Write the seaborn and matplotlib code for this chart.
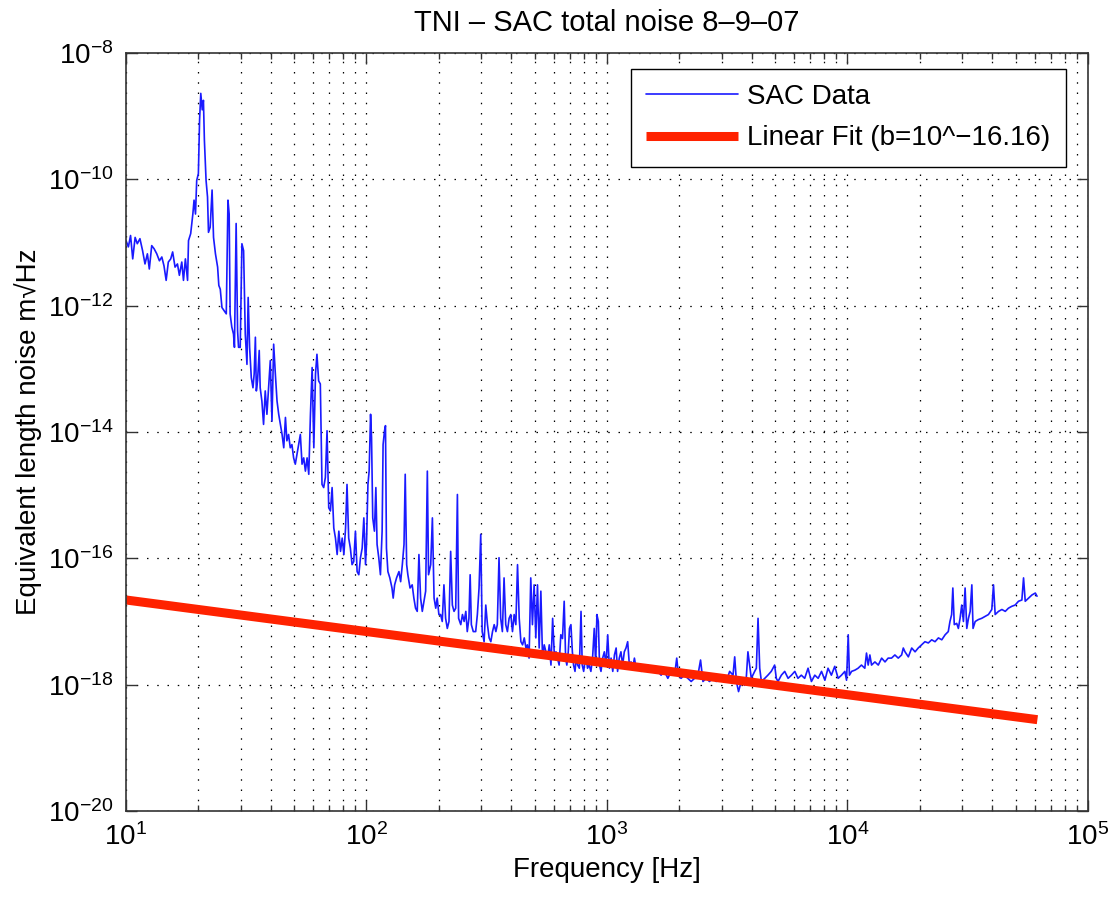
import seaborn as sns
import pandas as pd
import numpy as np
import matplotlib.pyplot as plt
from matplotlib.ticker import LogLocator, NullLocator, LogFormatterMathtext

# valores (log10 de frecuencia y de ruido)
low_logf = [1.000, 1.010, 1.019, 1.028, 1.038, 1.047, 1.058, 1.069, 1.079, 1.089,
            1.097, 1.107, 1.117, 1.128, 1.139, 1.149, 1.158, 1.167, 1.176, 1.186,
            1.194, 1.204, 1.214, 1.222, 1.232, 1.239, 1.247, 1.256, 1.260, 1.269,
            1.278, 1.283, 1.289, 1.294, 1.301, 1.306, 1.311, 1.317, 1.322, 1.326,
            1.333, 1.339, 1.343, 1.350, 1.358, 1.364, 1.372, 1.381, 1.386, 1.392,
            1.399, 1.408, 1.417, 1.424, 1.429, 1.433, 1.440, 1.447, 1.451, 1.458,
            1.464, 1.468, 1.475, 1.482, 1.489, 1.496, 1.503, 1.508, 1.514, 1.521,
            1.528, 1.533, 1.538, 1.542, 1.547, 1.554, 1.558, 1.565, 1.572, 1.579,
            1.586, 1.593, 1.600, 1.607, 1.614, 1.621, 1.628, 1.635, 1.642, 1.649,
            1.656, 1.663, 1.669, 1.676, 1.683, 1.690, 1.697, 1.704, 1.711, 1.725,
            1.732, 1.739, 1.746, 1.753, 1.760, 1.767, 1.774, 1.781, 1.788, 1.794,
            1.801]
low_logn = [-10.97, -11.07, -10.89, -11.26, -10.92, -11.02, -10.94, -11.13, -11.34, -11.18,
            -11.42, -11.05, -11.10, -11.18, -11.29, -11.23, -11.37, -11.60, -11.31, -11.26,
            -11.15, -11.39, -11.34, -11.52, -11.31, -11.60, -11.26, -11.60, -10.97, -10.86,
            -10.55, -10.33, -10.55, -10.02, -9.91, -9.06, -8.64, -8.90, -8.75, -9.38,
            -10.02, -10.28, -10.84, -10.76, -10.17, -10.92, -11.18, -11.39, -11.68, -11.74,
            -12.03, -12.08, -12.13, -10.33, -10.55, -12.13, -12.34, -12.45, -12.66, -10.70,
            -12.40, -12.66, -12.66, -11.02, -11.13, -12.45, -12.93, -11.87, -12.66, -13.14,
            -13.30, -13.08, -12.50, -13.35, -13.19, -12.71, -13.30, -13.51, -13.88, -13.35,
            -13.72, -13.30, -12.87, -13.83, -12.61, -13.08, -13.51, -13.72, -13.88, -14.04,
            -14.25, -13.77, -14.14, -14.04, -14.25, -14.20, -14.41, -14.51, -14.35, -14.04,
            -14.51, -14.41, -14.62, -14.41, -14.67, -13.72, -12.98, -14.25, -13.08, -12.77,
            -13.19]

mid_logf = [1.808, 1.815, 1.822, 1.829, 1.836, 1.843, 1.850, 1.857, 1.864, 1.871,
            1.878, 1.885, 1.892, 1.899, 1.906, 1.913, 1.919, 1.926, 1.933, 1.940,
            1.947, 1.954, 1.961, 1.968, 1.975, 1.982, 1.989, 1.996, 2.000, 2.006,
            2.011, 2.017, 2.021, 2.026, 2.033, 2.039, 2.044, 2.051, 2.058, 2.065,
            2.069, 2.075, 2.079, 2.083, 2.089, 2.097, 2.106, 2.111, 2.117, 2.125,
            2.135, 2.142, 2.149, 2.156, 2.161, 2.167, 2.172, 2.181, 2.190, 2.197,
            2.204, 2.211, 2.218, 2.225, 2.232, 2.239, 2.246, 2.253, 2.258, 2.267,
            2.274, 2.281, 2.288, 2.294, 2.301, 2.308, 2.315, 2.322, 2.329, 2.336,
            2.343, 2.350, 2.357, 2.364, 2.371, 2.378, 2.383, 2.392, 2.399, 2.406,
            2.413, 2.419, 2.426, 2.431, 2.436, 2.444, 2.454, 2.461, 2.468, 2.475,
            2.481, 2.489, 2.496, 2.503, 2.510, 2.517, 2.524, 2.531, 2.538, 2.544,
            2.551, 2.558, 2.565, 2.572, 2.579, 2.586, 2.593, 2.600, 2.607, 2.614,
            2.621, 2.628, 2.635, 2.642, 2.649, 2.656, 2.663, 2.669, 2.676, 2.683,
            2.690, 2.697, 2.704, 2.711, 2.718, 2.725, 2.732, 2.739, 2.746, 2.753,
            2.760]
mid_logn = [-13.24, -14.83, -14.88, -14.72, -13.98, -15.20, -15.25, -14.88, -15.52, -15.68,
            -15.94, -15.57, -15.89, -15.68, -15.94, -15.52, -14.83, -15.68, -15.84, -16.10,
            -16.05, -15.57, -16.21, -16.26, -15.99, -15.84, -15.36, -16.10, -15.78, -14.83,
            -14.62, -13.72, -14.09, -15.36, -15.57, -14.88, -15.78, -15.99, -16.26, -15.57,
            -14.20, -13.98, -13.90, -15.84, -16.21, -16.31, -16.47, -16.63, -16.42, -16.31,
            -16.21, -16.37, -16.10, -15.78, -14.67, -16.10, -16.26, -16.47, -16.42, -16.63,
            -16.79, -16.84, -15.94, -16.63, -16.84, -16.68, -16.52, -14.62, -16.26, -16.10,
            -15.36, -16.63, -16.79, -16.63, -16.89, -16.89, -17.00, -16.42, -16.95, -17.11,
            -17.00, -15.89, -16.74, -16.84, -16.79, -14.99, -16.95, -17.05, -16.89, -17.00,
            -16.84, -17.16, -16.95, -16.26, -17.05, -17.16, -17.16, -16.89, -16.47, -15.62,
            -17.16, -17.32, -16.74, -17.05, -17.26, -17.32, -17.16, -17.05, -17.16, -17.05,
            -15.99, -16.95, -17.16, -16.31, -17.05, -17.16, -16.95, -16.89, -17.16, -16.89,
            -17.05, -16.10, -16.95, -17.32, -17.37, -17.26, -17.42, -17.37, -17.58, -16.31,
            -17.05, -16.42, -17.26, -16.42, -17.42, -16.52, -17.58, -17.37, -17.48, -17.58,
            -17.37]

khz_logf = [2.767, 2.774, 2.781, 2.788, 2.794, 2.801, 2.808, 2.815, 2.822, 2.828,
            2.833, 2.839, 2.844, 2.850, 2.856, 2.861, 2.867, 2.872, 2.878, 2.885,
            2.892, 2.897, 2.903, 2.908, 2.914, 2.919, 2.926, 2.933, 2.940, 2.947,
            2.953, 2.958, 2.964, 2.969, 2.975, 2.982, 2.989, 2.996, 3.003, 3.010,
            3.017, 3.024, 3.031, 3.038, 3.044, 3.051, 3.058, 3.065, 3.072, 3.079,
            3.086, 3.093, 3.100, 3.107, 3.114, 3.121, 3.128, 3.142, 3.156, 3.169,
            3.183, 3.197, 3.211, 3.225, 3.239, 3.253, 3.267, 3.281, 3.290, 3.297,
            3.308, 3.322, 3.336, 3.350, 3.364, 3.378, 3.389, 3.399, 3.413, 3.426,
            3.440, 3.454, 3.468, 3.482, 3.496, 3.510, 3.524, 3.531, 3.538, 3.547,
            3.558, 3.565, 3.572, 3.579, 3.586, 3.593, 3.600, 3.614, 3.621, 3.628,
            3.635, 3.642, 3.656, 3.669, 3.683, 3.697, 3.704, 3.711, 3.725, 3.739,
            3.753, 3.767, 3.781, 3.794]
khz_logn = [-17.69, -16.95, -17.53, -17.48, -17.58, -17.69, -17.21, -17.27, -16.68, -17.58,
            -17.69, -17.48, -17.11, -17.05, -17.48, -17.69, -17.79, -17.58, -17.69, -17.74,
            -16.84, -17.69, -17.79, -17.64, -17.58, -17.74, -17.69, -17.79, -17.58, -17.11,
            -17.69, -16.89, -17.00, -17.69, -17.79, -17.58, -17.48, -17.69, -17.21, -17.74,
            -17.58, -17.79, -17.53, -17.42, -17.79, -17.58, -17.48, -17.69, -17.48, -17.42,
            -17.32, -17.69, -17.64, -17.74, -17.58, -17.74, -17.69, -17.79, -17.74, -17.69,
            -17.79, -17.74, -17.79, -17.85, -17.79, -17.90, -17.79, -17.85, -17.58, -17.85,
            -17.90, -17.85, -17.90, -17.95, -17.90, -17.85, -17.61, -17.95, -17.90, -17.95,
            -17.90, -17.95, -17.85, -17.90, -17.95, -17.79, -17.85, -17.56, -17.95, -18.11,
            -17.95, -17.95, -18.01, -17.90, -17.48, -17.69, -17.90, -17.79, -17.74, -16.95,
            -17.74, -17.95, -17.90, -17.85, -17.79, -17.69, -17.90, -17.95, -17.85, -17.79,
            -17.90, -17.85, -17.79, -17.90]

high_logf = [3.808, 3.822, 3.836, 3.850, 3.864, 3.878, 3.892, 3.906, 3.919, 3.933,
             3.947, 3.961, 3.975, 3.989, 3.996, 4.003, 4.008, 4.017, 4.031, 4.044,
             4.058, 4.072, 4.079, 4.086, 4.093, 4.100, 4.114, 4.128, 4.142, 4.156,
             4.169, 4.183, 4.197, 4.211, 4.225, 4.232, 4.239, 4.253, 4.267, 4.281,
             4.294, 4.308, 4.322, 4.336, 4.350, 4.364, 4.378, 4.392, 4.406, 4.419,
             4.426, 4.433, 4.438, 4.444, 4.454, 4.461, 4.468, 4.475, 4.482, 4.489,
             4.496, 4.503, 4.510, 4.517, 4.522, 4.531, 4.544, 4.558, 4.572, 4.586,
             4.600, 4.607, 4.614, 4.628, 4.642, 4.656, 4.669, 4.683, 4.697, 4.711,
             4.725, 4.732, 4.739, 4.753, 4.767, 4.781, 4.788]
high_logn = [-17.85, -17.90, -17.74, -17.95, -17.85, -17.90, -17.79, -17.93, -17.74, -17.85,
             -17.71, -17.90, -17.85, -17.79, -17.93, -17.21, -17.85, -17.79, -17.77, -17.74,
             -17.69, -17.74, -17.50, -17.69, -17.53, -17.69, -17.64, -17.69, -17.58, -17.64,
             -17.58, -17.58, -17.53, -17.58, -17.53, -17.42, -17.48, -17.56, -17.42, -17.48,
             -17.42, -17.37, -17.32, -17.34, -17.29, -17.32, -17.26, -17.29, -17.21, -17.16,
             -17.00, -16.89, -16.47, -17.05, -17.03, -17.11, -16.95, -16.74, -17.00, -16.47,
             -17.11, -16.95, -16.84, -16.42, -17.11, -17.00, -16.97, -16.95, -16.92, -16.89,
             -16.81, -16.42, -16.89, -16.84, -16.81, -16.84, -16.79, -16.76, -16.74, -16.68,
             -16.66, -16.31, -16.68, -16.63, -16.58, -16.55, -16.60]

# recta del ajuste (dos extremos)
fit_freq = [10, 61600]
fit_noise = [2.19e-17, 2.79e-19]

y_ticks = [1e-20, 1e-18, 1e-16, 1e-14, 1e-12, 1e-10, 1e-8]

# armar el dataframe de los datos SAC
logf = low_logf + mid_logf + khz_logf + high_logf
logn = low_logn + mid_logn + khz_logn + high_logn
sac = pd.DataFrame({'freq': np.power(10.0, logf), 'noise': np.power(10.0, logn)})
fit = pd.DataFrame({'freq': fit_freq, 'noise': fit_noise})

sns.set_style('ticks')
plt.rcParams['font.family'] = ['Liberation Sans', 'DejaVu Sans']
plt.rcParams['mathtext.fontset'] = 'custom'
plt.rcParams['mathtext.rm'] = 'Liberation Sans'
plt.rcParams['mathtext.it'] = 'Liberation Sans:italic'
plt.rcParams['mathtext.default'] = 'regular'
for k in ['text.color', 'axes.labelcolor', 'xtick.color', 'ytick.color']:
    plt.rcParams[k] = 'black'

fig = plt.figure(figsize=(11.11, 8.99), dpi=100)
ax = fig.add_axes([0.1134, 0.0979, 0.8659, 0.8432])

sns.lineplot(data=sac, x='freq', y='noise', ax=ax, color='#1a1aff', lw=1.2,
             estimator=None, sort=False, label='SAC Data')
sns.lineplot(data=fit, x='freq', y='noise', ax=ax, color='#ff2200', lw=6.5,
             estimator=None, sort=False, label='Linear Fit (b=10^\u221216.16)',
             solid_capstyle='butt')

ax.set_xscale('log')
ax.set_yscale('log')
ax.set_xlim(10, 1e5)
ax.set_ylim(1e-20, 1e-8)

ax.set_yticks(y_ticks)
ax.yaxis.set_major_formatter(LogFormatterMathtext())
ax.yaxis.set_minor_locator(NullLocator())
ax.xaxis.set_major_locator(LogLocator(base=10, numticks=10))
ax.xaxis.set_minor_locator(LogLocator(base=10, subs=np.arange(2, 10), numticks=10))

# rejilla punteada estilo matlab
ax.grid(True, which='both', axis='x', color='black', lw=0.9, linestyle=(0, (1.2, 7)))
ax.grid(True, which='major', axis='y', color='black', lw=0.9, linestyle=(0, (1.2, 7)))

ax.tick_params(which='both', direction='in', top=True, right=True, color='#333333')
ax.tick_params(which='major', length=8, width=1, labelsize=20, pad=9)
ax.tick_params(which='minor', length=4, width=1)
for s in ax.spines.values():
    s.set_color('#333333')
    s.set_linewidth(1.2)

ax.set_xlabel('Frequency [Hz]', fontsize=20, labelpad=4)
ax.set_ylabel('Equivalent length noise m\u221aHz', fontsize=20, labelpad=4)
ax.set_title('TNI \u2013 SAC total noise 8\u20139\u201307', fontsize=21, pad=16)

leg = ax.legend(loc='upper right', bbox_to_anchor=(0.977, 0.979), borderaxespad=0,
                fontsize=20, frameon=True, fancybox=False, framealpha=1,
                edgecolor='black', handlelength=3.3, borderpad=0.55,
                labelspacing=0.55, handletextpad=0.35)
leg.get_frame().set_linewidth(1.0)

plt.savefig('out.png', dpi=100)
plt.close()
